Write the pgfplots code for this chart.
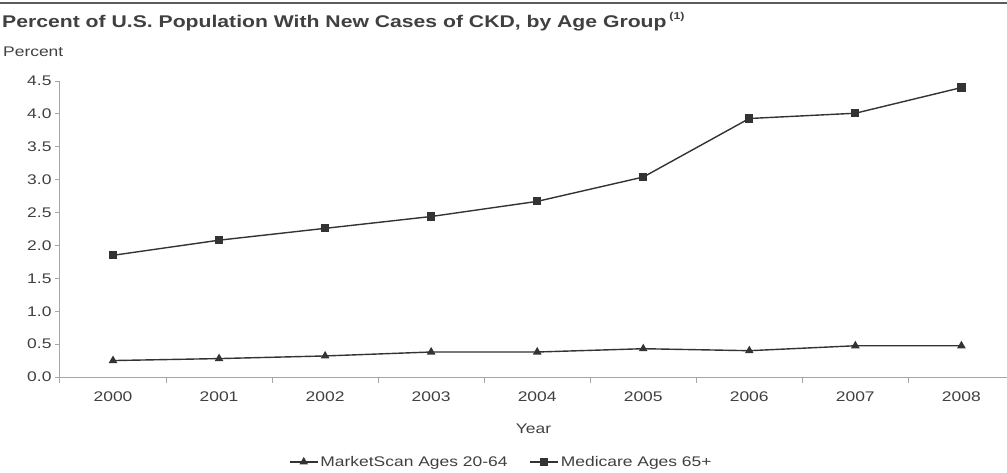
\documentclass[border=0pt]{standalone}
\usepackage{fontspec}
\setmainfont{Liberation Sans}[FakeStretch=1.25]
\usepackage{pgfplots}
\pgfplotsset{compat=1.18}
\definecolor{axgray}{HTML}{A6A6A6}
\definecolor{txt}{HTML}{404040}
\definecolor{ser}{HTML}{333333}
\begin{document}
\begin{tikzpicture}
\path[use as bounding box] (-60bp,-96bp) rectangle (947bp,377bp);
\draw[draw=ser!80, line width=1.2bp] (-60bp,374bp) -- (947bp,374bp);
\node[anchor=base west, inner sep=0pt, text=txt, font=\bfseries\fontsize{17}{19}\selectfont]
  at (-58bp,349.5bp) {Percent of U.S. Population With New Cases of CKD, by Age Group\,\raisebox{0.45em}{\fontsize{10}{12}\selectfont(1)}};
\node[anchor=base west, inner sep=0pt, text=txt, font=\fontsize{14}{16}\selectfont]
  at (-57bp,320bp) {Percent};
\begin{axis}[
    at={(0,0)}, anchor=south west,
    scale only axis, width=947bp, height=296bp,
    xmin=1999.5, xmax=2008.43, ymin=0, ymax=4.5,
    axis x line*=bottom, axis y line*=left,
    axis line style={axgray, line width=1bp, -},
    xtick={2000,...,2008},
    minor xtick={1999.5,2000.5,...,2007.5},
    ytick={0,0.5,...,4.5},
    tick align=outside,
    major x tick style={draw=none},
    minor x tick style={axgray, line width=1bp},
    minor tick length=6bp,
    major tick length=5bp,
    y tick style={axgray, line width=1bp},
    /pgf/number format/assume math mode=true,
    tick label style={font=\fontsize{14}{16}\selectfont, text=txt},
    yticklabel style={/pgf/number format/.cd, fixed, fixed zerofill, precision=1},
    xticklabel style={/pgf/number format/1000 sep={}, yshift=-6bp},
    xlabel={Year},
    xlabel style={font=\fontsize{14}{16}\selectfont, text=txt, yshift=-16bp},
    legend style={at={(0.466,-0.287)}, anchor=center, draw=none,
      font=\fontsize{14}{16}\selectfont, text=txt, legend columns=2,
      /tikz/every even column/.append style={column sep=20bp}},
    legend image code/.code={%
      \draw[mark repeat=2, mark phase=2, #1] plot coordinates {(0bp,0bp) (14bp,0bp) (28bp,0bp)};},
    legend cell align=left,
    clip=false,
]
\addplot[ser, line width=1.4bp, mark=triangle*, mark size=3.6bp, mark options={solid, fill=ser}]
  coordinates {(2000,0.25) (2001,0.28) (2002,0.32) (2003,0.38) (2004,0.38)
               (2005,0.43) (2006,0.40) (2007,0.475) (2008,0.475)};
\addlegendentry{MarketScan Ages 20-64}
\addplot[ser, line width=1.4bp, mark=square*, mark size=3.4bp, mark options={solid, fill=ser}]
  coordinates {(2000,1.85) (2001,2.08) (2002,2.26) (2003,2.44) (2004,2.67)
               (2005,3.04) (2006,3.93) (2007,4.01) (2008,4.40)};
\addlegendentry{Medicare Ages 65+}
\end{axis}
\end{tikzpicture}
\end{document}
